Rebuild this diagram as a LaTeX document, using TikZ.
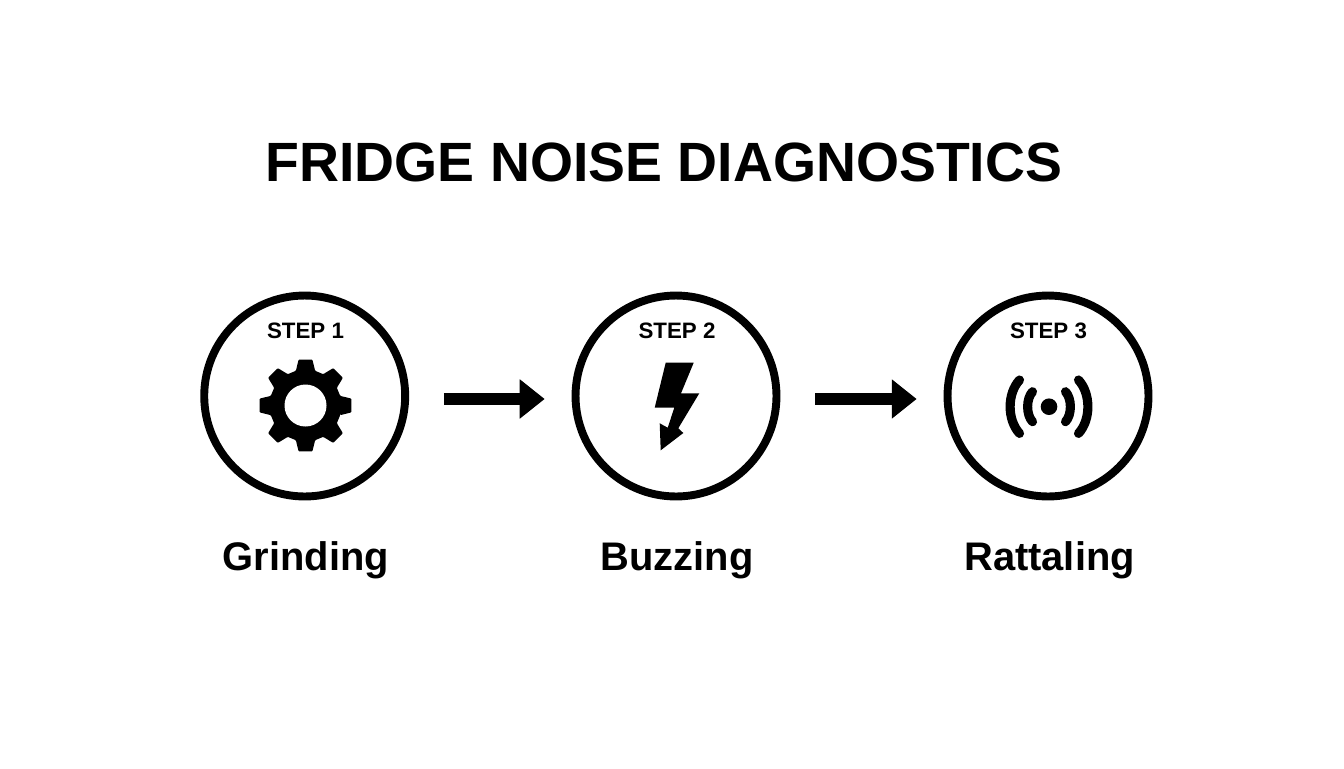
\documentclass[tikz,border=0pt]{standalone}
\usepackage{fontspec}
\setmainfont{Liberation Sans}
\usetikzlibrary{arrows.meta}

\begin{document}
\begin{tikzpicture}[x=0.02cm,y=0.02cm]
\tikzstyle{every node}+=[inner sep=0pt]
\tikzstyle{ring}=[draw=black,circle,line width=4.5pt,minimum size=4.02cm]
\tikzstyle{steplabel}=[anchor=base,font=\fontsize{12.7}{15}\selectfont\bfseries]
\tikzstyle{noiselabel}=[anchor=base,font=\fontsize{22.7}{27}\selectfont\bfseries]
\tikzstyle{flow}=[line width=6.8pt,-{Triangle[length=14.2pt,width=21.5pt]},shorten <=19.8pt,shorten >=15.3pt]
\useasboundingbox (0,0) rectangle (1344,-768);
\draw (664,-181) node [anchor=base,font=\fontsize{31.5}{38}\selectfont\bfseries] (title) {FRIDGE NOISE DIAGNOSTICS};
% rings
\draw (304.7,-396) node [ring] (ring1) {};
\draw (676,-396) node [ring] (ring2) {};
\draw (1048,-396) node [ring] (ring3) {};
\draw (305.5,-338) node [steplabel] (step1) {STEP 1};
\draw (677,-338) node [steplabel] (step2) {STEP 2};
\draw (1048.5,-338) node [steplabel] (step3) {STEP 3};
\draw (306,-570) node [noiselabel] (grinding) {Grinding};
\draw (677,-570) node [noiselabel] (buzzing) {Buzzing};
\draw (1049.5,-570) node [noiselabel] (rattaling) {Rattaling};
% arrows
\draw [flow] ([yshift=-1.7pt]ring1.east) -- ([yshift=-1.7pt]ring2.west);
\draw [flow] ([yshift=-1.7pt]ring2.east) -- ([yshift=-1.7pt]ring3.west);
% gear
\coordinate (gear) at (305.5,-405.5);
\begin{scope}[shift={(gear)}]
\fill [black,rounded corners=0.5pt] (-15.5:36)
  \foreach \a in {0,45,...,315} {
    -- (\a-15.5:36) -- (\a-8.5:46.5) -- (\a+8.5:46.5) -- (\a+15.5:36)
  } -- cycle;
\fill [white] (0,0) circle (21);
\end{scope}
% bolt
\fill [black] (665.7,-362.7) -- (693.7,-362.7) -- (681,-393.3) -- (699.3,-393.3) -- (678.3,-428.3) -- (683.3,-433) -- (660.7,-450.3) -- (659.7,-423.3) -- (667.7,-427.7) -- (674.3,-407.7) -- (654.7,-407.7) -- cycle;
% waves
\coordinate (signal) at (1049,-406.7);
\begin{scope}[shift={(signal)}]
\fill [black] (0,0) circle (8.3);
\foreach \s in {-1,1} {
  \draw [line width=5.2pt,line cap=round] (\s*16.5,15) .. controls (\s*23,8) and (\s*23,-8) .. (\s*16.5,-15);
  \draw [line width=5.2pt,line cap=round] (\s*29.5,26.7) .. controls (\s*42,13) and (\s*42,-13) .. (\s*29.5,-26.7);
}
\end{scope}
\end{tikzpicture}
\end{document}
